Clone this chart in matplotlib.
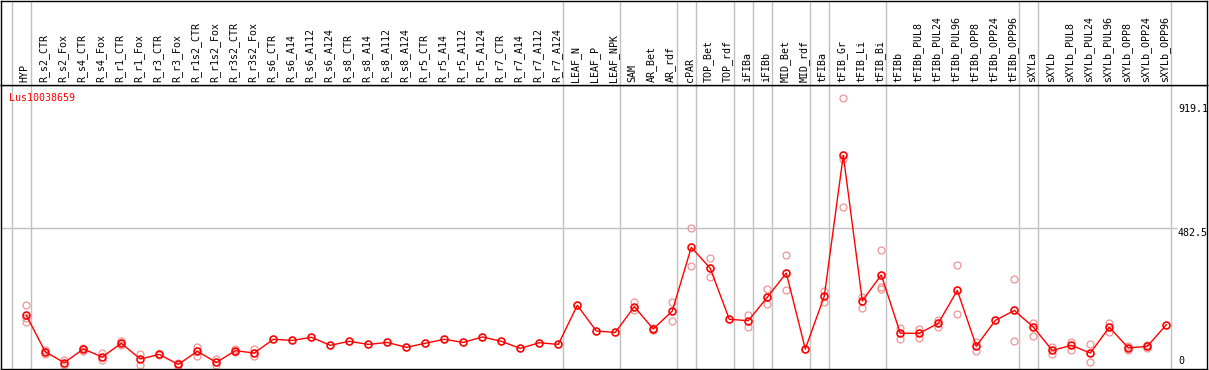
import matplotlib
matplotlib.use("Agg")
import matplotlib.pyplot as plt
import matplotlib.transforms as mtransforms
import numpy as np

# --- DATA ---
GENE = "Lus10038659"
samples = [
    "HYP", "R_s2_CTR", "R_s2_Fox", "R_s4_CTR", "R_s4_Fox", "R_r1_CTR", "R_r1_Fox",
    "R_r3_CTR", "R_r3_Fox", "R_r1s2_CTR", "R_r1s2_Fox", "R_r3s2_CTR", "R_r3s2_Fox",
    "R_s6_CTR", "R_s6_A14", "R_s6_A112", "R_s6_A124", "R_s8_CTR", "R_s8_A14",
    "R_s8_A112", "R_s8_A124", "R_r5_CTR", "R_r5_A14", "R_r5_A112", "R_r5_A124",
    "R_r7_CTR", "R_r7_A14", "R_r7_A112", "R_r7_A124",
    "LEAF_N", "LEAF_P", "LEAF_NPK", "SAM", "AR_Bet", "AR_rdf", "cPAR",
    "TOP_Bet", "TOP_rdf", "iFIBa", "iFIBb", "MID_Bet", "MID_rdf", "tFIBa",
    "tFIB_Gr", "tFIB_Li", "tFIB_Bi", "tFIBb", "tFIBb_PUL8", "tFIBb_PUL24",
    "tFIBb_PUL96", "tFIBb_OPP8", "tFIBb_OPP24", "tFIBb_OPP96", "sXYLa", "sXYLb",
    "sXYLb_PUL8", "sXYLb_PUL24", "sXYLb_PUL96", "sXYLb_OPP8", "sXYLb_OPP24",
    "sXYLb_OPP96",
]
means = [
    178, 50, 12, 60, 32, 80, 25, 41, 6, 52, 13, 54, 46,
    94, 90, 101, 73, 87, 76, 83, 66, 80, 94, 83, 102, 87, 62, 82, 76,
    213, 123, 118, 208, 130, 193, 416, 342, 164, 159, 241, 326, 60, 245,
    738, 229, 319, 115, 115, 150, 265, 70, 160, 195, 137, 55, 73, 46, 136,
    64, 69, 145,
]
replicates = [
    [214, 167, 153], [58, 44], [22, 4], [64, 52], [45, 20], [88, 75], [42, 5],
    [44, 38], [12, 2], [68, 36], [26, 4], [60, 48], [60, 34],
    [], [], [], [], [], [], [], [], [], [], [], [], [], [], [], [],
    [], [], [], [225, 196], [134, 127], [224, 157], [482, 349], [377, 311], [],
    [179, 136], [269, 216], [389, 266], [], [263, 225],
    [938, 724, 556], [241, 202], [405, 278, 270], [134, 95], [129, 99],
    [161, 138], [353, 181], [85, 53], [], [304, 88], [152, 106], [66, 41],
    [84, 58], [76, 14], [151, 119], [69, 58], [74, 64], [],
]
group_sizes = [1, 28, 3, 3, 1, 2, 1, 1, 2, 1, 3, 7, 1, 7]
y_ticks = [0, 482.5, 919.1]
y_tick_labels = ["0", "482.5", "919.1"]

# --- FIGURE ---
W, H = 1209, 370
fig = plt.figure(figsize=(W / 100, H / 100), dpi=100)

left, right = 1, 1207
plot_top, plot_bot = 85, 369
ax = fig.add_axes([left / W, (H - plot_bot) / H, (right - left) / W, (plot_bot - plot_top) / H])
hax = fig.add_axes([left / W, (H - plot_top) / H, (right - left) / W, (plot_top - 1) / H])

x = np.arange(len(samples))
xlim = ((left - 26.3) / 19, (right - 26.3) / 19)
for a in (ax, hax):
    a.set_xlim(*xlim)
    a.set_xticks([])
    a.set_yticks([])
    for s in a.spines.values():
        s.set_color("black")
        s.set_linewidth(1)
ax.set_ylim(-10, 984)
hax.set_ylim(0, 1)

# group separators
bounds = np.concatenate([[0], np.cumsum(group_sizes)]) - 1 + 0.23
for b in bounds:
    ax.axvline(b, color="#c0c0c0", lw=1, zorder=1)
    hax.axvline(b, color="#c0c0c0", lw=1, zorder=1)

# horizontal reference at middle tick
ax.plot([xlim[0], (1176 - 26.3) / 19], [482.5, 482.5], color="#c0c0c0", lw=1, zorder=1)

mono = "DejaVu Sans Mono"
for xi, name in zip(x, samples):
    hax.text(xi - 0.08, 0.035, name, rotation=90, ha="center", va="bottom",
             fontsize=7.2, family=mono, color="black")

# replicates
for xi, reps in zip(x, replicates):
    if reps:
        ax.plot([xi] * len(reps), reps, "o", ms=5, mfc="none", mec="#f09494",
                mew=0.9, zorder=2)

ax.plot(x, means, color="red", lw=1, zorder=3)
ax.plot(x, means, "o", ms=5, mfc="none", mec="red", mew=1.2, zorder=4)

# y labels on the right, left-aligned
trans = mtransforms.blended_transform_factory(ax.transAxes, ax.transData)
lab_x = (1178 - left) / (right - left)
for v, lab in zip(y_ticks, y_tick_labels):
    va = "bottom" if v == 0 else "top"
    ax.text(lab_x, v, lab, transform=trans, ha="left", va=va, fontsize=7.2,
            family=mono, color="black")

ax.text((9 - left) / (right - left), 1 - 13 / (plot_bot - plot_top), GENE,
        transform=ax.transAxes, ha="left", va="center", fontsize=7.2,
        family=mono, color="red")

fig.savefig("out.png", dpi=100)
